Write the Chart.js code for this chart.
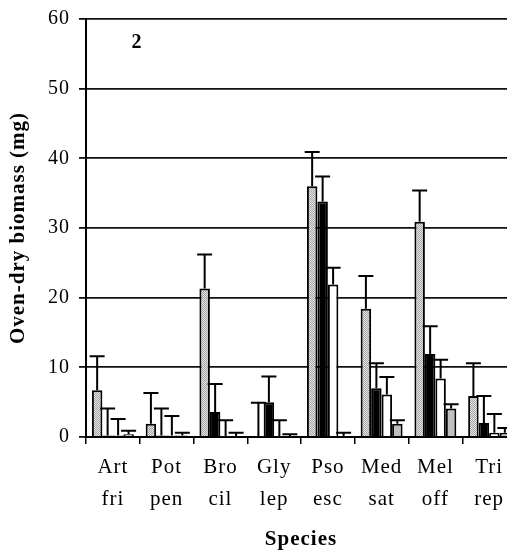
<!DOCTYPE html>
<html>
<head>
<meta charset="utf-8">
<script src="https://cdn.jsdelivr.net/npm/chart.js@4.4.0/dist/chart.umd.min.js"></script>
<style>
    body { margin: 0; overflow: hidden; background: #fff; }
    #wrap { position: relative; width: 520px; height: 550px; }
</style>
</head>
<body>
<div id="wrap"><canvas id="myChart"></canvas></div>
<script>
// species on the x axis (two lines each)
const species = [['Art', 'fri'], ['Pot', 'pen'], ['Bro', 'cil'], ['Gly', 'lep'], ['Pso', 'esc'], ['Med', 'sat'], ['Mel', 'off'], ['Tri', 'rep']];

// bar heights (mg), four treatments per species
const hatchedVals = [6.7, 1.9, 21.3, 0.1, 36.0, 18.4, 30.9, 5.9];
const blackVals = [0.2, 0.2, 3.6, 5.0, 33.8, 7.0, 11.9, 2.0];
const whiteVals = [0.2, 0.2, 0.1, 0.1, 21.9, 6.1, 8.4, 0.6];
const greyVals = [0.4, 0.2, 0.1, 0.1, 0.1, 1.9, 4.1, 0.6];

// upper error bars
const hatchedErr = [4.9, 4.4, 4.9, 4.8, 4.9, 4.7, 4.5, 4.7];
const blackErr = [3.9, 3.9, 4.0, 3.7, 3.6, 3.6, 4.0, 3.9];
const whiteErr = [2.4, 2.8, 2.3, 2.3, 2.4, 2.5, 2.7, 2.7];
const greyErr = [0.5, 0.4, 0.5, 0.3, 0.5, 0.5, 0.6, 0.7];

const yTicks = [0, 10, 20, 30, 40, 50, 60];
const panelLabel = '2';

function makeHatch() {
    let c = document.createElement('canvas');
    c.width = 2;
    c.height = 2;
    let g = c.getContext('2d');
    g.fillStyle = '#e6e6e6';
    g.fillRect(0, 0, 2, 2);
    g.fillStyle = '#a4a4a4';
    g.fillRect(0, 0, 1, 1);
    g.fillRect(1, 1, 1, 1);
    return g.createPattern(c, 'repeat');
}

const errorBars = {
    id: 'errorBars',
    afterDatasetsDraw(chart) {
        let ctx = chart.ctx;
        let y = chart.scales.y;
        ctx.save();
        ctx.strokeStyle = '#000';
        ctx.lineWidth = 2;
        chart.data.datasets.forEach((ds, i) => {
            let meta = chart.getDatasetMeta(i);
            meta.data.forEach((bar, j) => {
                let top = y.getPixelForValue(ds.data[j] + ds.errors[j]);
                ctx.beginPath();
                ctx.moveTo(bar.x, bar.y);
                ctx.lineTo(bar.x, top);
                ctx.moveTo(bar.x - 7.5, top);
                ctx.lineTo(bar.x + 7.5, top);
                ctx.stroke();
            });
        });
        ctx.restore();
    }
};

const panelText = {
    id: 'panelText',
    beforeDraw(chart) {
        chart.ctx.letterSpacing = '1px';
    },
    afterDraw(chart) {
        let ctx = chart.ctx;
        let area = chart.chartArea;
        ctx.save();
        ctx.font = 'bold 20px "Liberation Serif"';
        ctx.fillStyle = '#000';
        ctx.textAlign = 'center';
        ctx.textBaseline = 'middle';
        ctx.fillText(panelLabel, area.left + 51, area.top + 24);
        ctx.restore();
    }
};

function barSet(label, values, errors, fill) {
    return {
        label: label,
        data: values,
        errors: errors,
        backgroundColor: fill,
        borderColor: '#000',
        borderWidth: 2,
        borderSkipped: 'bottom',
        categoryPercentage: 0.78,
        barPercentage: 1.0
    };
}

const ctx = document.getElementById('myChart').getContext('2d');
const myChart = new Chart(ctx, {
    type: 'bar',
    data: {
        labels: species,
        datasets: [
            barSet('A', hatchedVals, hatchedErr, makeHatch()),
            barSet('B', blackVals, blackErr, '#000000'),
            barSet('C', whiteVals, whiteErr, '#ffffff'),
            barSet('D', greyVals, greyErr, '#c0c0c0')
        ]
    },
    options: {
        responsive: true,
        maintainAspectRatio: false,
        animation: false,
        layout: { padding: { top: 17, right: 4, left: 0, bottom: 0 } },
        plugins: {
            legend: { display: false },
            tooltip: { enabled: false }
        },
        scales: {
            x: {
                offset: true,
                grid: { display: true, offset: true, drawOnChartArea: false, color: '#000', lineWidth: 1.5, tickLength: 7 },
                border: { display: true, color: '#000', width: 2 },
                ticks: {
                    color: '#000',
                    padding: 8,
                    maxRotation: 0,
                    autoSkip: false,
                    font: { family: 'Liberation Serif', size: 21, lineHeight: 1.5 }
                },
                title: {
                    display: true,
                    text: 'Species',
                    color: '#000',
                    padding: { top: 0, bottom: 0 },
                    font: { family: 'Liberation Serif', size: 21, weight: 'bold', lineHeight: 1.0 }
                },
                afterFit(scale) { scale.height = 113; }
            },
            y: {
                min: 0,
                max: 60,
                afterBuildTicks(scale) { scale.ticks = yTicks.map(v => ({ value: v })); },
                grid: { color: '#111', lineWidth: 1.8, tickLength: 7 },
                border: { display: true, color: '#000', width: 2 },
                ticks: {
                    color: '#000',
                    padding: 9,
                    font: { family: 'Liberation Serif', size: 20, lineHeight: 1.0 }
                },
                title: {
                    display: true,
                    text: 'Oven-dry biomass (mg)',
                    color: '#000',
                    padding: { top: 8, bottom: 0 },
                    font: { family: 'Liberation Serif', size: 21, weight: 'bold', lineHeight: 1.0 }
                },
                afterFit(scale) { scale.width = 86; }
            }
        }
    },
    plugins: [errorBars, panelText]
});
</script>
</body>
</html>
